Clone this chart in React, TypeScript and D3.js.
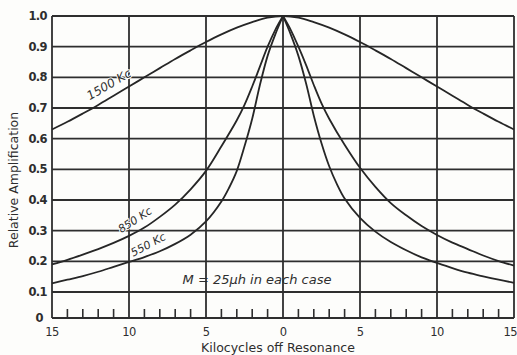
import React from "react";
import * as d3 from "d3";

const W = 517;
const H = 355;

const xTickLabels = [15, 10, 5, 0, 5, 10, 15];
const xTickValues = [-15, -10, -5, 0, 5, 10, 15];
const yTickValues = [0, 0.1, 0.2, 0.3, 0.4, 0.5, 0.6, 0.7, 0.8, 0.9, 1.0];
const yTickLabels = ["0", "0.1", "0.2", "0.3", "0.4", "0.5", "0.6", "0.7", "0.8", "0.9", "1.0"];
const minorTicks = [-14, -13, -12, -11, -9, -8, -7, -6, -4, -3, -2, -1, 1, 2, 3, 4, 6, 7, 8, 9, 11, 12, 13, 14];

// 1500 Kc curve (full, -15..15)
const kc1500X = [-15, -14, -13, -12, -11, -10, -9, -8, -7, -6, -5, -4, -3, -2, -1, 0, 1, 2, 3, 4, 5, 6, 7, 8, 9, 10, 11, 12, 13, 14, 15];
const kc1500Y = [0.63, 0.655, 0.682, 0.71, 0.74, 0.77, 0.8, 0.83, 0.86, 0.888, 0.915, 0.94, 0.962, 0.98, 0.995, 1.0, 0.995, 0.98, 0.962, 0.94, 0.915, 0.888, 0.86, 0.83, 0.8, 0.77, 0.74, 0.71, 0.682, 0.655, 0.63];

// 850 Kc curve (distance from resonance, each side)
const kc850Off = [0, 0.5, 1, 1.5, 2, 2.5, 3, 4, 5, 6, 7, 8, 9, 10, 11, 12, 13, 14, 15];
const kc850Left = [1.0, 0.955, 0.9, 0.835, 0.77, 0.71, 0.66, 0.575, 0.495, 0.435, 0.385, 0.345, 0.31, 0.283, 0.26, 0.24, 0.222, 0.205, 0.19];
const kc850Right = [1.0, 0.955, 0.9, 0.84, 0.775, 0.715, 0.665, 0.58, 0.505, 0.443, 0.39, 0.35, 0.315, 0.286, 0.261, 0.24, 0.219, 0.201, 0.186];

// 550 Kc curve
const kc550Off = [0, 0.5, 1, 1.5, 2, 2.5, 3, 3.5, 4, 5, 6, 7, 8, 9, 10, 11, 12, 13, 14, 15];
const kc550Left = [1.0, 0.94, 0.87, 0.775, 0.665, 0.575, 0.495, 0.44, 0.395, 0.33, 0.287, 0.257, 0.233, 0.214, 0.198, 0.182, 0.166, 0.152, 0.14, 0.128];
const kc550Right = [1.0, 0.94, 0.87, 0.78, 0.675, 0.585, 0.51, 0.452, 0.405, 0.342, 0.297, 0.263, 0.236, 0.213, 0.195, 0.178, 0.163, 0.151, 0.14, 0.13];

const FONT = "'DejaVu Sans', 'Liberation Sans', sans-serif";
const INK = "#2e2e2e";
const BG = "#fdfdfb";

export default function App() {
  const x = d3.scaleLinear().domain([-15, 15]).range([52, 514]);
  const y = d3.scaleLinear().domain([0, 0.1, 1]).range([318, 292, 16]);

  const smooth = d3
    .line<[number, number]>()
    .x((d) => x(d[0]))
    .y((d) => y(d[1]))
    .curve(d3.curveCatmullRom.alpha(0.5));

  const path1500 = smooth(kc1500X.map((v, i) => [v, kc1500Y[i]] as [number, number]));
  const half = (off: number[], vals: number[], sign: number) =>
    smooth(
      off
        .map((o, i) => [sign * o, vals[i]] as [number, number])
        .sort((a, b) => a[0] - b[0])
    );
  const p850L = half(kc850Off, kc850Left, -1);
  const p850R = half(kc850Off, kc850Right, 1);
  const p550L = half(kc550Off, kc550Left, -1);
  const p550R = half(kc550Off, kc550Right, 1);

  const [x0, x1] = x.range();
  const yTop = y(1);
  const yBot = y(0);

  const labelProps = {
    fontFamily: FONT,
    fontStyle: "italic" as const,
    fill: INK,
    textAnchor: "middle" as const,
    stroke: BG,
    strokeWidth: 2,
    paintOrder: "stroke" as const,
  };

  return (
    <svg
      width={W}
      height={H}
      viewBox={`0 0 ${W} ${H}`}
      style={{ position: "absolute", left: 0, top: 0, background: BG }}
    >
      <rect x={0} y={0} width={W} height={H} fill={BG} />
      {/* horizontal grid */}
      {yTickValues.map((v) => (
        <line key={"h" + v} x1={x0} x2={x1} y1={y(v)} y2={y(v)} stroke={INK} strokeWidth={1.8} />
      ))}
      {/* vertical grid */}
      {xTickValues.map((v) => (
        <line key={"v" + v} x1={x(v)} x2={x(v)} y1={yTop} y2={yBot} stroke={INK} strokeWidth={1.8} />
      ))}
      {/* minor ticks */}
      {minorTicks.map((v) => (
        <line key={"m" + v} x1={x(v)} x2={x(v)} y1={yBot} y2={yBot - 9} stroke={INK} strokeWidth={1.6} />
      ))}

      {/* curves */}
      <g fill="none" stroke="#262626" strokeWidth={1.8}>
        <path d={path1500 || ""} />
        <path d={p850L || ""} />
        <path d={p850R || ""} />
        <path d={p550L || ""} />
        <path d={p550R || ""} />
      </g>

      {/* y tick labels */}
      {yTickValues.map((v, i) => (
        <text
          key={"yl" + v}
          x={i === 0 ? 43 : 47}
          y={y(v)}
          dy="0.35em"
          textAnchor="end"
          fontFamily={FONT}
          fontSize={11.5}
          fontWeight={600}
          fill={INK}
          letterSpacing={-0.6}
        >
          {yTickLabels[i]}
        </text>
      ))}

      {/* x tick labels */}
      {xTickValues.map((v, i) => (
        <text
          key={"xl" + i}
          x={i === xTickValues.length - 1 ? 517 : x(v)}
          y={336}
          textAnchor={i === xTickValues.length - 1 ? "end" : "middle"}
          fontFamily={FONT}
          fontSize={11.5}
          fill={INK}
          letterSpacing={-0.6}
        >
          {xTickLabels[i]}
        </text>
      ))}

      <text x={278} y={352} textAnchor="middle" fontFamily={FONT} fontSize={12.5} fill={INK}>
        Kilocycles off Resonance
      </text>
      <text
        transform="translate(18,180) rotate(-90)"
        textAnchor="middle"
        fontFamily={FONT}
        fontSize={12.5}
        fill={INK}
      >
        Relative Amplification
      </text>

      <text x={257} y={284} textAnchor="middle" fontFamily={FONT} fontSize={13} fontStyle="italic" fill={INK}>
        M = 25μh in each case
      </text>

      <text transform="translate(111,88) rotate(-30)" fontSize={12} {...labelProps}>
        1500 Kc
      </text>
      <text transform="translate(137,223) rotate(-33)" fontSize={11} {...labelProps}>
        850 Kc
      </text>
      <text transform="translate(150,248) rotate(-28)" fontSize={11} {...labelProps}>
        550 Kc
      </text>
    </svg>
  );
}
